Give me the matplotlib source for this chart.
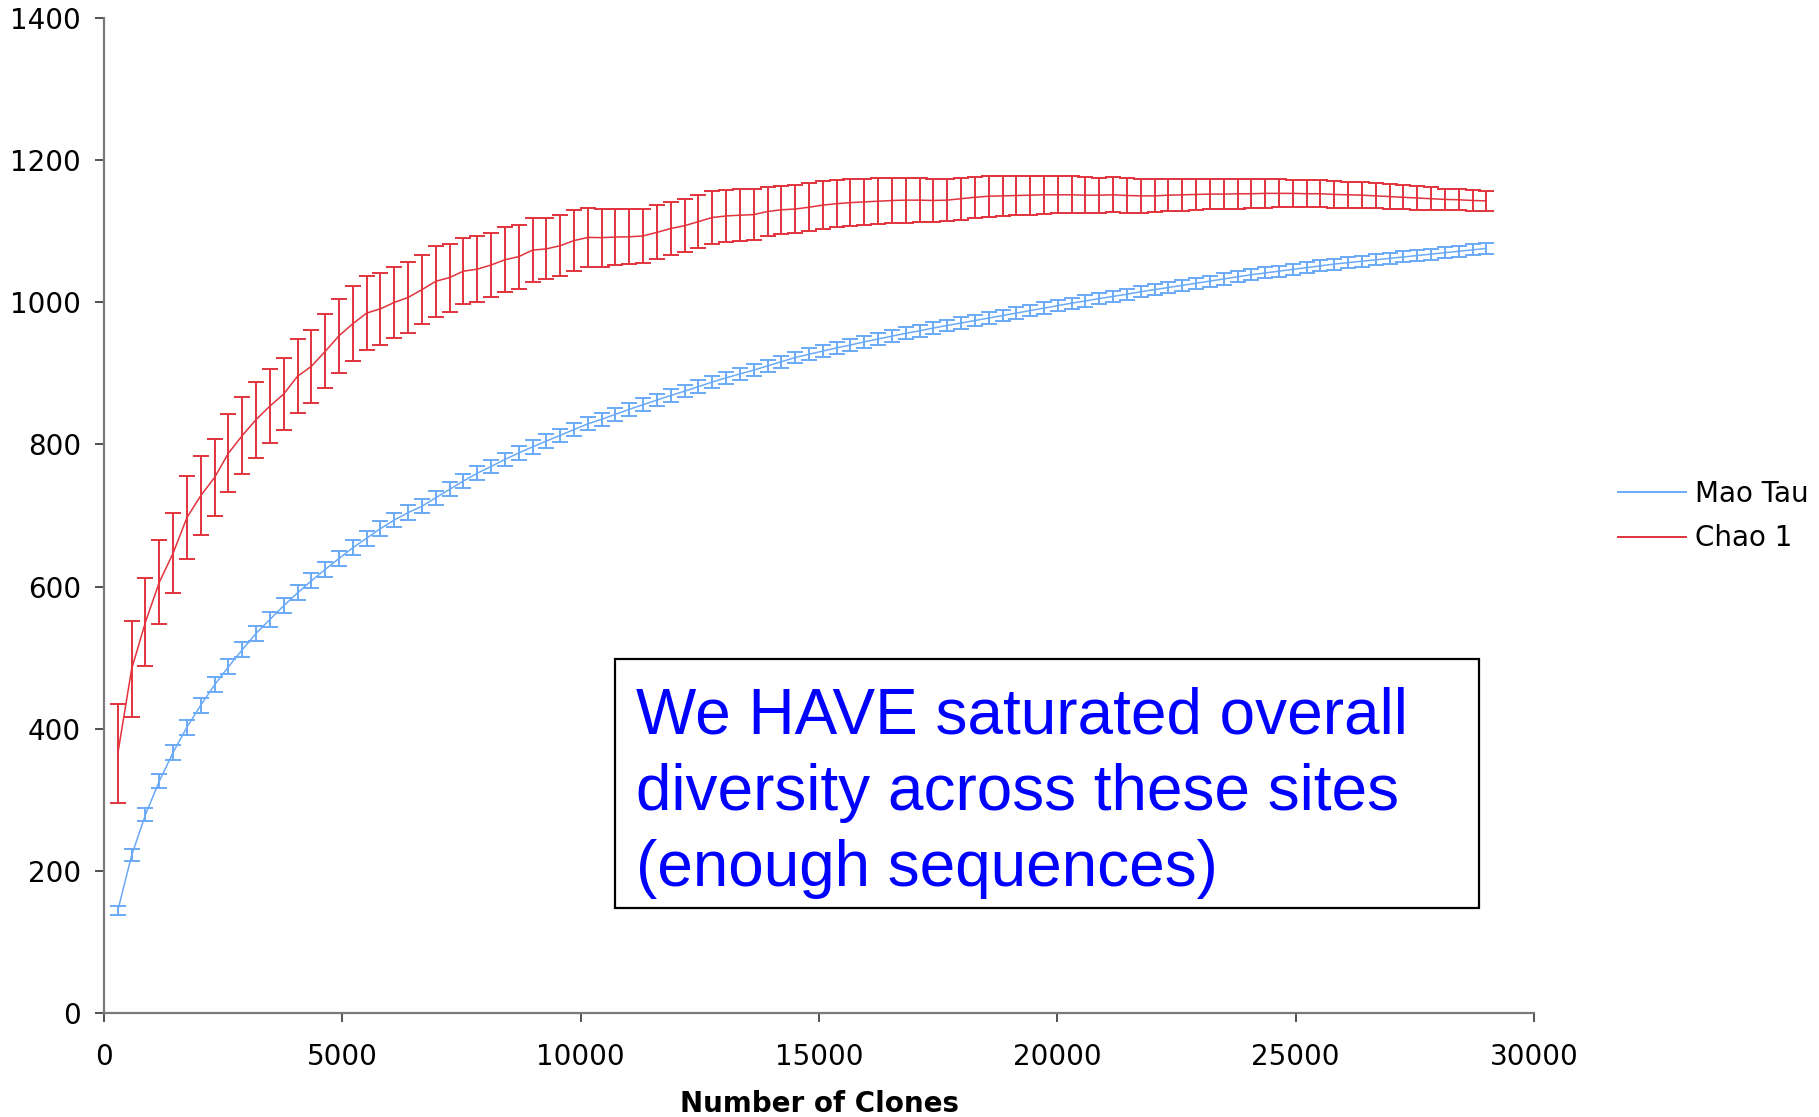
import matplotlib
matplotlib.use("Agg")
import matplotlib.pyplot as plt
from matplotlib.lines import Line2D
from matplotlib.patches import Rectangle

# -----------------------------------------------------
# Rarefaction data (clones sampled every 290)
# -----------------------------------------------------

clone_step = 290
clones = list(range(clone_step, clone_step * 100 + 1, clone_step))

mao_tau = [
    144, 221.6, 278.8, 326, 366.5, 402, 433, 461.5, 487, 511,
    534, 553.6, 573, 591, 608, 624, 639.5, 654.6, 668, 681.6,
    693.7, 704, 713, 725, 736.8, 748.6, 759.5, 769, 778.9, 788,
    796.6, 804.8, 812.8, 821, 829, 835.5, 842.5, 849.5, 856, 862.5,
    869, 875, 881.4, 887.9, 893.8, 899.3, 904.7, 910.6, 916.5, 922.4,
    927, 931.5, 936, 940, 944.5, 948.5, 952.5, 956.5, 960, 964,
    967.5, 971, 974.5, 978, 981.5, 985, 988.5, 992, 995.5, 999,
    1002, 1005.5, 1008.5, 1011.5, 1015, 1018, 1021, 1024, 1027, 1030,
    1033, 1036, 1039, 1041.5, 1044, 1046.5, 1049, 1051.5, 1054, 1056,
    1058, 1060, 1062, 1064, 1066, 1068, 1070, 1072, 1074, 1076,
]

mao_tau_err = [
    6.8, 8.5, 9, 10, 10.5, 10.5, 10.5, 10.5, 10.5, 10.5,
    10.5, 10.5, 10.5, 10.5, 10.5, 10.5, 10.5, 10.5, 10.5, 10.5,
    10.3, 10.2, 10, 10, 9.9, 9.8, 9.7, 9.6, 9.5, 9.5,
    9.4, 9.3, 9.2, 9.2, 9.1, 9, 9, 8.9, 8.9, 8.8,
    8.8, 8.7, 8.7, 8.6, 8.6, 8.5, 8.5, 8.5, 8.4, 8.4,
    8.4, 8.3, 8.3, 8.3, 8.2, 8.2, 8.2, 8.2, 8.1, 8.1,
    8.1, 8.1, 8, 8, 8, 8, 8, 7.9, 7.9, 7.9,
    7.9, 7.9, 7.9, 7.8, 7.8, 7.8, 7.8, 7.8, 7.8, 7.8,
    7.8, 7.8, 7.7, 7.7, 7.7, 7.7, 7.7, 7.7, 7.7, 7.7,
    7.7, 7.7, 7.7, 7.7, 7.7, 7.7, 7.7, 7.7, 7.7, 7.7,
]

chao1 = [
    365, 484, 550, 606, 647, 697, 728, 753.5, 787.7, 812.5,
    835, 854, 871, 896, 910, 931, 953, 970, 985, 991,
    1000, 1007, 1018, 1029.7, 1035, 1044, 1046.8, 1052.7, 1060, 1064.5,
    1073.6, 1075.4, 1079.8, 1087, 1091.5, 1091.2, 1092, 1092.4, 1093.6, 1098.6,
    1104, 1108, 1113.7, 1119.6, 1121.7, 1122.8, 1123.6, 1128, 1130.4, 1131.5,
    1134, 1137, 1139, 1140.5, 1141.5, 1142.5, 1143.5, 1144, 1144, 1143.5,
    1144, 1146, 1148, 1149.5, 1150, 1150.5, 1151, 1151.5, 1151.5, 1151.5,
    1151, 1151, 1151.5, 1150.5, 1150, 1150, 1151, 1151.5, 1152, 1152.5,
    1152.5, 1153, 1153, 1153.5, 1153.5, 1153.5, 1153, 1153, 1152, 1151.5,
    1151, 1150, 1149, 1148, 1147, 1146, 1145, 1144.5, 1143.5, 1143,
]

chao1_err = [
    70, 67, 62, 59, 56.5, 58, 56, 54.5, 54.7, 53.8,
    53.5, 52.5, 51, 52, 51.5, 52, 52, 53, 52, 51,
    50, 49.5, 49, 49.7, 47.8, 46.8, 46.2, 45.5, 45.5, 45,
    44.6, 42.9, 42.8, 42.8, 41.8, 41, 40, 38.7, 38.5, 38,
    37.8, 37.5, 37, 37, 36.4, 36.4, 35.6, 35, 34.2, 34.2,
    33.7, 33.3, 33, 32.6, 32.3, 32, 31.8, 31.5, 31, 30.5,
    30, 29.6, 29.2, 28.8, 28.3, 27.8, 27.3, 26.8, 26.3, 25.8,
    25.3, 24.8, 24.4, 24, 23.6, 23.2, 22.8, 22.4, 22, 21.6,
    21.2, 20.8, 20.5, 20.2, 19.8, 19.5, 19.2, 18.9, 18.6, 18.3,
    18, 17.6, 17.2, 16.8, 16.4, 15.9, 15.3, 14.8, 14.2, 13.6,
]

x_ticks = [0, 5000, 10000, 15000, 20000, 25000, 30000]
y_ticks = [0, 200, 400, 600, 800, 1000, 1200, 1400]

box_lines = [
    "We HAVE saturated overall",
    "diversity across these sites",
    "(enough sequences)",
]

blue = "#6aaaf8"
red = "#e2333d"

# -----------------------------------------------------
# Figure
# -----------------------------------------------------

W, H = 1819, 1117
fig = plt.figure(figsize=(W / 100, H / 100), dpi=100)
ax = fig.add_axes([104 / W, 1 - 1012.7 / H, (1534 - 104) / W, (1012.7 - 18.3) / H])

ax.errorbar(clones, mao_tau, yerr=mao_tau_err, color=blue, lw=1.1,
            elinewidth=1.4, capsize=6, capthick=1.4, zorder=3)
ax.errorbar(clones, chao1, yerr=chao1_err, color=red, lw=1.1,
            elinewidth=1.4, capsize=6, capthick=1.4, zorder=3)

ax.set_xlim(0, 30000)
ax.set_ylim(0, 1400)
ax.set_xticks(x_ticks)
ax.set_yticks(y_ticks)
ax.set_xticklabels([str(t) for t in x_ticks])
ax.set_yticklabels([str(t) for t in y_ticks])

for side in ["top", "right"]:
    ax.spines[side].set_visible(False)
for side in ["left", "bottom"]:
    ax.spines[side].set_color("#7a7a7a")
    ax.spines[side].set_linewidth(1.6)

ax.tick_params(axis="both", direction="out", length=6.5, width=1.2,
               color="#333333", labelsize=20)
ax.tick_params(axis="y", pad=10)
ax.tick_params(axis="x", pad=15)

ax.set_xlabel("Number of Clones", fontsize=20, fontweight="bold",
              labelpad=14)

# Legend outside the plot area, no frame
handles = [
    Line2D([], [], color=blue, lw=1.4),
    Line2D([], [], color=red, lw=1.4),
]
fig.legend(handles, ["Mao Tau", "Chao 1"], loc="center left",
           bbox_to_anchor=(1593 / W, 1 - 516 / H), frameon=False,
           fontsize=20, handlelength=2.45, handletextpad=0.33,
           labelspacing=0.6, borderpad=0.4)

# Annotation box
fig.add_artist(Rectangle((614.9 / W, 1 - 908.4 / H), (1479 - 614.9) / W,
                         (908.4 - 659) / H, transform=fig.transFigure,
                         facecolor="white", edgecolor="black", lw=1.6))
for i, line in enumerate(box_lines):
    fig.text(636 / W, 1 - (733 + i * 76.6) / H, line, color="#0000ff",
             fontsize=46, family="Liberation Sans", va="baseline", ha="left")

fig.savefig("out.png", dpi=100)
